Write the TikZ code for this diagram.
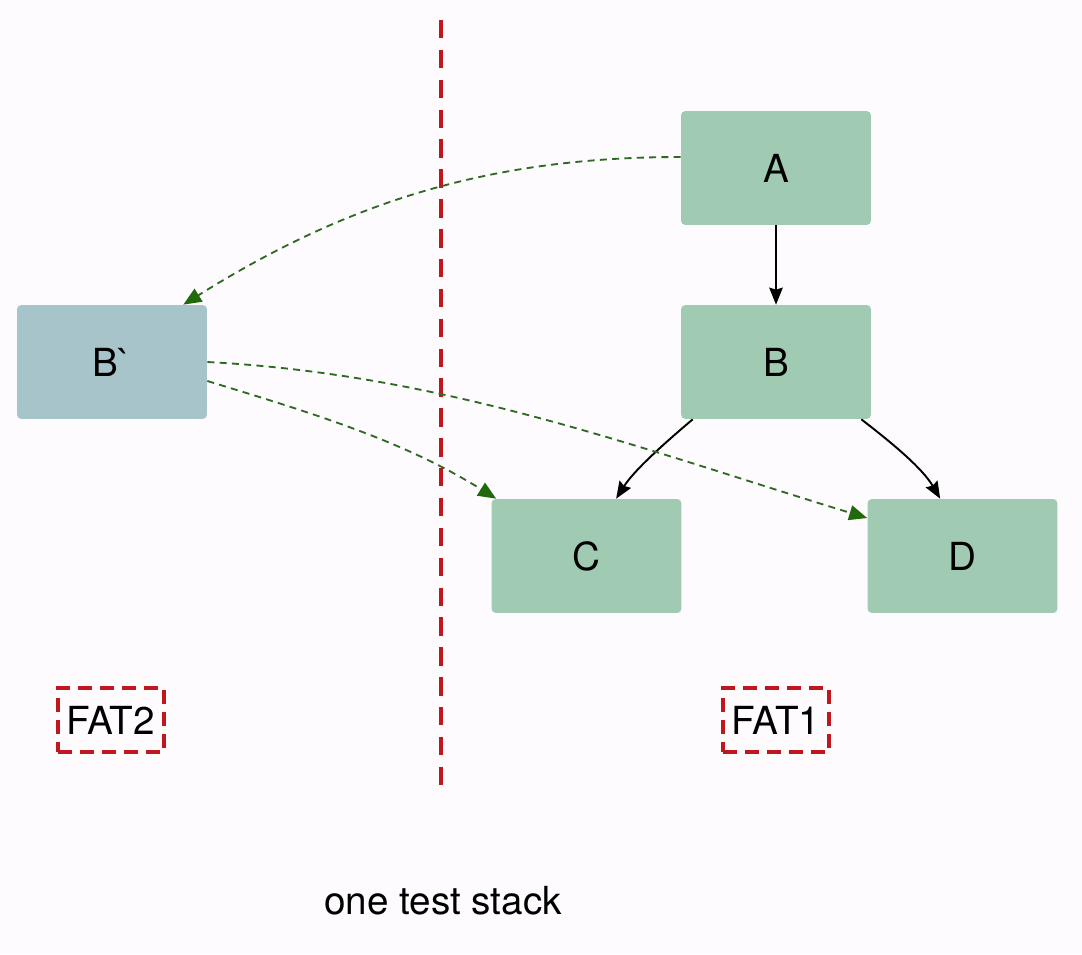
\documentclass[tikz,border=0pt]{standalone}
\usepackage{fontspec}
\setmainfont{TeX Gyre Heros}[Ligatures=TeXOff]
\usetikzlibrary{arrows.meta,calc}
\definecolor{bg}{HTML}{FDFBFD}
\definecolor{boxgreen}{HTML}{A0CBB2}
\definecolor{boxblue}{HTML}{A6C4CA}
\definecolor{dgreen}{HTML}{2F6A22}
\definecolor{tipgreen}{HTML}{22690C}
\definecolor{fatred}{HTML}{C0161E}
\tikzset{
  block/.style={rounded corners=2.5pt, minimum width=3.8cm, minimum height=2.28cm,
    inner sep=0pt, font=\fontsize{22}{26}\selectfont, text=black},
  gblock/.style={block, fill=boxgreen},
  bblock/.style={block, fill=boxblue},
  fatbox/.style={draw=fatred, line width=2.2pt, dash pattern=on 8pt off 4.5pt,
    minimum width=2.12cm, minimum height=1.28cm, inner sep=0pt,
    font=\fontsize{22}{26}\selectfont},
  solidarrow/.style={draw=black, line width=1.1pt,
    -{Stealth[length=0.34cm,width=0.27cm,inset=0.04cm]}},
  dasharrow/.style={draw=dgreen, line width=1.05pt, dash pattern=on 4pt off 3pt,
    -{Triangle[length=0.36cm,width=0.3cm,fill=tipgreen,color=tipgreen]}},
}
\begin{document}
\begin{tikzpicture}[x=0.02cm,y=-0.02cm]
  \fill[bg] (0,0) rectangle (1082,954);
  \useasboundingbox (0,0) rectangle (1082,954);
  % divider
  \coordinate (top) at (441,20);
  \coordinate (bot) at (441,785);
  \draw[fatred, line width=2.3pt, dash pattern=on 10.5pt off 6.5pt] (top) -- (bot);
  % nodes
  \node[gblock] (A) at (776,168) {A};
  \node[gblock] (B) at (776,362) {B};
  \node[gblock] (C) at (586.5,556) {C};
  \node[gblock] (D) at (962.5,556) {D};
  \node[bblock] (Bp) at (112,362) {B\symbol{96}};
  \node[fatbox] (F2) at (111,720) {FAT2};
  \node[fatbox] (F1) at (776,720) {FAT1};
  \node[font=\fontsize{22}{26}\selectfont] (cap) at (443,901) {one test stack};
  % solid arrows
  \draw[solidarrow] (A) -- (B);
  \draw[solidarrow] ([xshift=0.24cm]B.south west) .. controls +(-0.65cm,-0.55cm) and +(0.35cm,0.55cm) .. ([xshift=2.5cm]C.north west);
  \draw[solidarrow] ([xshift=-0.2cm]B.south east) .. controls +(0.65cm,-0.5cm) and +(-0.35cm,0.6cm) .. ([xshift=1.46cm]D.north west);
  % dashed arrows
  \draw[dasharrow] ([yshift=0.22cm]A.west) to[out=180,in=32,looseness=0.95] ([xshift=-0.48cm]Bp.north east);
  \draw[dasharrow] (Bp.east) to[out=-3,in=163,looseness=0.9] ([yshift=0.76cm]D.west);
  \draw[dasharrow] ([yshift=-0.38cm]Bp.east) to[out=-17,in=148,looseness=0.9] ([xshift=0.1cm]C.north west);
\end{tikzpicture}
\end{document}
